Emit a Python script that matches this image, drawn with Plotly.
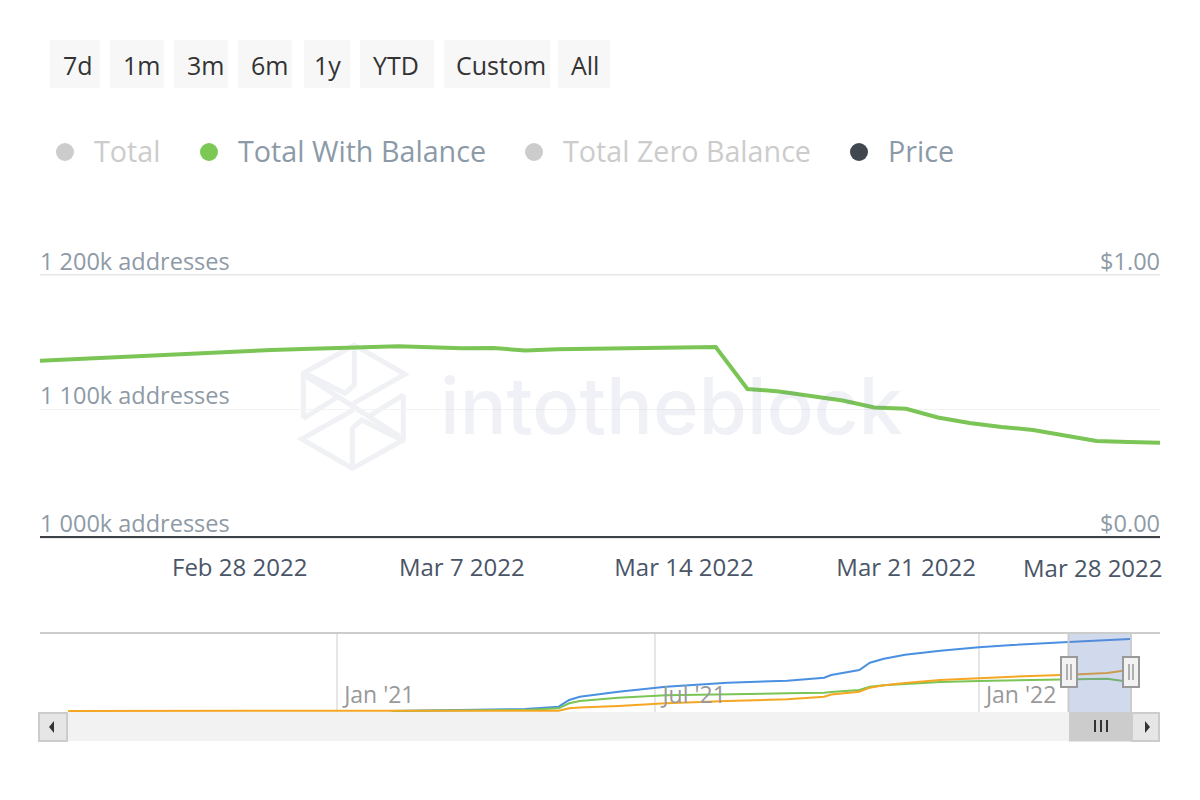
import plotly.graph_objects as go

# main chart, total with balance, thousands of addresses
dates = [
    "2022-02-21", "2022-02-22", "2022-02-23", "2022-02-24", "2022-02-25", "2022-02-26", "2022-02-27",
    "2022-02-28", "2022-03-01", "2022-03-02", "2022-03-03", "2022-03-04", "2022-03-05", "2022-03-06",
    "2022-03-07", "2022-03-08", "2022-03-09", "2022-03-10", "2022-03-11", "2022-03-12", "2022-03-13",
    "2022-03-14", "2022-03-15", "2022-03-16", "2022-03-17", "2022-03-18", "2022-03-19", "2022-03-20",
    "2022-03-21", "2022-03-22", "2022-03-23", "2022-03-24", "2022-03-25", "2022-03-26", "2022-03-27",
    "2022-03-28", "2022-03-29",
]
with_balance = [
    1133.7, 1134.9, 1136.2, 1137.3, 1138.6, 1139.5, 1140.5,
    1141.5, 1142.8, 1143.5, 1144.3, 1145.0, 1145.6, 1144.8,
    1144.0, 1144.3, 1142.3, 1143.4, 1143.7, 1143.7, 1143.7,
    1144.7, 1145.0, 1113.0, 1111.1, 1107.6, 1104.2, 1098.9,
    1097.9, 1091.2, 1087.0, 1084.0, 1081.7, 1077.5, 1073.3,
    1072.5, 1071.9,
]

# navigator series
nav_dates = [
    "2020-08-01", "2021-02-01", "2021-04-18", "2021-05-07", "2021-05-13", "2021-05-19", "2021-06-10",
    "2021-07-07", "2021-08-11", "2021-09-14", "2021-10-05", "2021-10-09", "2021-10-25", "2021-10-31",
    "2021-11-08", "2021-11-20", "2021-12-10", "2022-01-01", "2022-01-20", "2022-02-21", "2022-03-15",
    "2022-03-23", "2022-03-28",
]
nav_total = [
    None, 0, 71, 154, 393, 511, 689, 868, 1010, 1082, 1189, 1285, 1464, 1724,
    1867, 2010, 2153, 2274, 2356, 2463, 2528, 2556, 2570,
]
nav_with_balance = [
    None, 0, 36, 96, 275, 357, 475, 560, 607, 632, 653, 678, 750, 868,
    918, 957, 1035, 1071, 1096, 1132, 1153, 1082, 1071,
]
nav_zero = [
    0, 0, 0, 11, 96, 125, 179, 275, 357, 418, 511, 589, 689, 832,
    918, 1000, 1107, 1178, 1225, 1296, 1357, 1428, 1464,
]

y_ticks = [1000, 1097.7, 1200]
y_labels = ["1 000k addresses", "1 100k addresses", "1 200k addresses"]
x_ticks = ["2022-02-28", "2022-03-07", "2022-03-14", "2022-03-21"]
x_labels = ["Feb 28 2022", "Mar 7 2022", "Mar 14 2022", "Mar 21 2022"]
nav_ticks = ["2021-01-01", "2021-07-01", "2022-01-01"]
nav_labels = ["Jan '21", "Jul '21", "Jan '22"]

buttons = ["7d", "1m", "3m", "6m", "1y", "YTD", "Custom", "All"]
button_edges = [(50, 100), (110, 164), (174, 228), (238, 292), (304, 350), (360, 434), (444, 550), (558, 610)]
button_text_x = [78, 141, 205, 269, 327, 396, 501, 585]
legend_names = ["Total", "Total With Balance", "Total Zero Balance", "Price"]
legend_dots = [65, 209, 534, 859]
legend_text_x = [92, 236, 561, 886]
legend_dot_colors = ["#cccccc", "#7cc855", "#cccccc", "#41474f"]
legend_text_colors = ["#cccccc", "#8c9aa8", "#cccccc", "#8c9aa8"]

FONT = "Open Sans"
GREEN = "#7ac555"


def px(x):
    return x / 1200


def py(y):
    return 1 - y / 800


def rect(x0, y0, x1, y1, fill, line=None, width=1, layer="above"):
    return dict(type="rect", xref="paper", yref="paper", x0=px(x0), x1=px(x1), y0=py(y0), y1=py(y1),
                fillcolor=fill, line=dict(color=line or fill, width=width if line else 0), layer=layer)


def seg(x0, y0, x1, y1, color, width=1, layer="above"):
    return dict(type="line", xref="paper", yref="paper", x0=px(x0), x1=px(x1), y0=py(y0), y1=py(y1),
                line=dict(color=color, width=width), layer=layer)


def poly(points, color=None, fill=None, width=5, closed=False, layer="below"):
    d = "M " + " L ".join(f"{px(x):.5f},{py(y):.5f}" for x, y in points)
    if closed:
        d += " Z"
    return dict(type="path", xref="paper", yref="paper", path=d, fillcolor=fill or "rgba(0,0,0,0)",
                line=dict(color=color or "rgba(0,0,0,0)", width=width if color else 0), layer=layer)


def label(x, y, text, size, color, anchor="center", family=FONT, weight=None):
    font = dict(family=family, size=size, color=color)
    if weight:
        font["weight"] = weight
    return dict(xref="paper", yref="paper", x=px(x), y=py(y), text=text, showarrow=False,
                xanchor=anchor, yanchor="middle", font=font)


def logo_pt(zx, zy):
    return (295 + zx / 3, 340 + zy / 3)


fig = go.Figure()
fig.add_trace(go.Scatter(x=dates, y=with_balance, mode="lines", line=dict(color=GREEN, width=4),
                         xaxis="x", yaxis="y", name="Total With Balance"))
# price has no visible line in this view, the trace keeps the right axis alive
fig.add_trace(go.Scatter(x=dates[:1], y=[None], mode="lines", xaxis="x", yaxis="y2", name="Price",
                         line=dict(color="#41474f")))
fig.add_trace(go.Scatter(x=nav_dates, y=nav_total, mode="lines", line=dict(color="#4a90e2", width=2),
                         xaxis="x2", yaxis="y3", name="Total"))
fig.add_trace(go.Scatter(x=nav_dates, y=nav_with_balance, mode="lines", line=dict(color=GREEN, width=2),
                         xaxis="x2", yaxis="y3", name="Total With Balance"))
fig.add_trace(go.Scatter(x=nav_dates, y=nav_zero, mode="lines", line=dict(color="#f5a623", width=2),
                         xaxis="x2", yaxis="y3", name="Total Zero Balance"))

shapes = []
annotations = []

# range buttons
for name, (x0, x1), tx in zip(buttons, button_edges, button_text_x):
    shapes.append(rect(x0, 40, x1, 88, "#f7f7f7"))
    annotations.append(label(tx, 65, name, 25, "#333333"))

# legend
for name, dot, tx, dc, tc in zip(legend_names, legend_dots, legend_text_x, legend_dot_colors, legend_text_colors):
    shapes.append(dict(type="circle", xref="paper", yref="paper", x0=px(dot - 9), x1=px(dot + 9),
                       y0=py(161), y1=py(143), fillcolor=dc, line=dict(width=0)))
    annotations.append(label(tx, 150, name, 28.7, tc, anchor="left"))

# watermark, the text is translucent so the line stays visible through it
wm = "#eff1f5"
for stroke in [
    [(25, 235), (25, 100), (178, 15), (330, 103), (175, 190)],
    [(178, 20), (178, 135), (150, 160), (30, 100)],
    [(25, 235), (130, 170)],
    [(35, 110), (315, 290)],
    [(325, 165), (325, 300), (172, 385), (20, 297), (175, 210)],
    [(172, 380), (172, 265), (200, 240), (320, 300)],
    [(325, 165), (220, 230)],
]:
    shapes.append(poly([logo_pt(*p) for p in stroke], color=wm, width=5))
annotations.append(label(671, 405, "intotheblock", 78, "rgba(100,122,169,0.105)", family="Inter", weight=500))

# top edge of the plot and last date label, moved inwards like the original
shapes.append(seg(40, 275, 1160, 275, "#e6e6e6", 2, "below"))
shapes.append(seg(40, 538.5, 1160, 538.5, "#e6e6e6", 1, "below"))
annotations.append(label(1165, 567, "Mar 28 2022", 24, "#4a5568", anchor="right"))

# navigator outline and selected window
shapes.append(seg(40, 633, 1160, 633, "#cccccc", 2))
shapes.append(dict(type="rect", xref="x2", yref="paper", x0="2022-02-21", x1="2022-03-28", y0=py(712), y1=py(634),
                   fillcolor="rgba(102,133,194,0.3)", line=dict(width=0), layer="above"))
shapes.append(seg(1068.5, 633, 1068.5, 712, "#cccccc", 2))
shapes.append(seg(1131, 633, 1131, 712, "#cccccc", 2))

# scrollbar
shapes.append(rect(39, 712, 1160, 741, "#f2f2f2"))
shapes.append(rect(39, 713, 67, 741, "#e6e6e6", "#cccccc", 2))
shapes.append(rect(1132, 713, 1159, 741, "#e6e6e6", "#cccccc", 2))
shapes.append(rect(1069, 712, 1132, 741.5, "#cccccc"))
for gx in [1095, 1101, 1107]:
    shapes.append(seg(gx, 720, gx, 732, "#333333", 2))
shapes.append(poly([(49, 727), (54, 721), (54, 733)], fill="#333333", closed=True, layer="above"))
shapes.append(poly([(1150, 727), (1145, 721), (1145, 733)], fill="#333333", closed=True, layer="above"))

# navigator handles
for hx in [1069, 1131]:
    shapes.append(rect(hx - 8, 657, hx + 8, 687, "#f2f2f2", "#999999", 2))
    shapes.append(seg(hx - 2, 664, hx - 2, 680, "#999999", 1.5))
    shapes.append(seg(hx + 2, 664, hx + 2, 680, "#999999", 1.5))

fig.update_layout(
    width=1200,
    height=800,
    margin=dict(l=0, r=0, t=0, b=0),
    paper_bgcolor="white",
    plot_bgcolor="rgba(0,0,0,0)",
    showlegend=False,
    shapes=shapes,
    annotations=annotations,
    # the x axis sits at a free position, the y axes run past both end ticks so inside labels are kept
    xaxis=dict(domain=[px(40), px(1160)], anchor="free", position=py(537), range=["2022-02-21 17:00", "2022-03-29"],
               tickmode="array", tickvals=x_ticks, ticktext=x_labels, showgrid=False, ticks="",
               showline=True, linecolor="#3c4248", linewidth=2, ticklabelstandoff=9,
               tickfont=dict(family=FONT, size=24, color="#4a5568")),
    yaxis=dict(domain=[py(547), py(215)], anchor="x", range=[992.37, 1245.8], tickmode="array",
               tickvals=y_ticks, ticktext=y_labels, ticklabelposition="inside top", showgrid=True,
               gridcolor="#f3f3f3", gridwidth=1, zeroline=False, ticklabelstandoff=-3, ticklabelshift=3,
               tickfont=dict(family=FONT, size=23.5, color="#8e9aa6")),
    yaxis2=dict(domain=[py(547), py(215)], anchor="x", overlaying="y", side="right", range=[-0.0382, 1.229],
                tickmode="array", tickvals=[0, 1], ticktext=["$0.00", "$1.00"], ticklabelposition="inside top",
                showgrid=False, zeroline=False, ticklabelstandoff=-3, ticklabelshift=3,
                tickfont=dict(family=FONT, size=23.5, color="#8e9aa6")),
    xaxis2=dict(domain=[px(40), px(1160)], anchor="y3", range=["2020-07-16", "2022-04-14"], tickmode="array",
                tickvals=nav_ticks, ticktext=nav_labels, ticklabelposition="inside right", showgrid=True,
                gridcolor="#e6e6e6", gridwidth=2, ticks="", showline=False, ticklabelshift=7, ticklabelstandoff=-2,
                tickfont=dict(family=FONT, size=23, color="#999999")),
    yaxis3=dict(domain=[py(712), py(633)], anchor="x2", range=[-36, 2785], showgrid=False, zeroline=False,
                showticklabels=False),
)

fig.write_html("out.html", post_script="document.body.style.margin = '0';", config={"displayModeBar": False})
